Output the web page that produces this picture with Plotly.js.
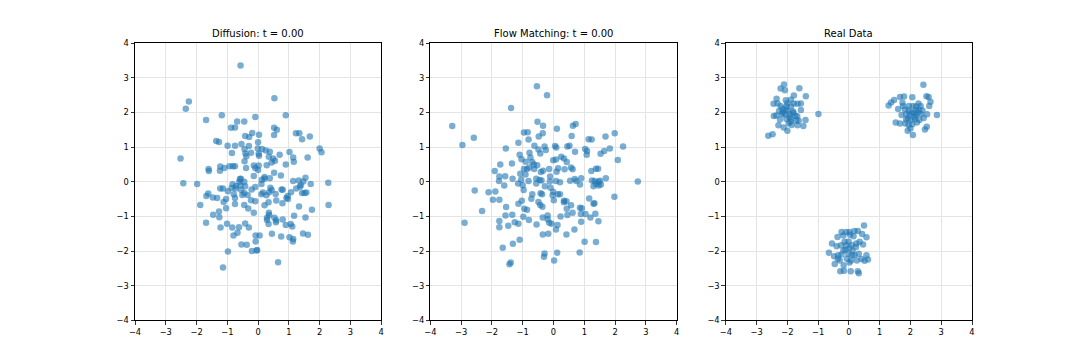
<!DOCTYPE html>
<html>
<head>
<meta charset="utf-8">
<script src="https://cdn.plot.ly/plotly-3.0.1.min.js"></script>
<style>html,body{margin:0;padding:0;background:#fff;}#chart{width:1080px;height:360px;}</style>
</head>
<body>
<div id="chart"></div>
<script>
const panelTitles = ["Diffusion: t = 0.00", "Flow Matching: t = 0.00", "Real Data"];
const tickVals = [-4, -3, -2, -1, 0, 1, 2, 3, 4];

const diffX = [-0.57,0.53,-2.25,-2.35,-1.18,-0.09,0.90,-1.69,-0.68,-0.45,
-0.88,-0.75,0.52,0.61,-0.19,0.03,0.52,-0.42,-0.29,1.23,
1.34,1.68,1.43,-1.36,-1.27,0.00,-0.99,-0.75,-0.54,-0.30,
-0.01,0.13,0.25,2.00,2.06,-0.44,-0.41,-0.85,0.02,-0.23,
0.38,1.02,0.70,-2.52,-0.38,0.03,0.49,0.44,0.55,1.14,
1.16,1.61,-0.44,0.35,-0.93,-0.82,-0.75,-1.23,-1.10,-1.61,
-1.60,-1.24,-0.14,0.02,-0.09,0.00,-0.39,0.28,0.52,0.90,
0.74,0.21,0.12,0.21,-0.59,-0.56,-0.61,-0.45,-2.43,-1.98,
2.28,1.14,1.32,1.47,1.54,1.71,1.36,1.24,1.39,-0.72,
-0.86,-0.73,-0.57,-0.42,-0.55,-0.09,-0.21,0.40,-1.23,-1.14,
-0.98,0.16,0.36,0.44,0.76,0.80,1.07,1.43,1.51,1.57,
-1.62,-1.68,-1.47,-1.33,-1.12,-1.04,-0.79,-0.75,-0.51,-0.34,
-0.23,-0.09,0.11,0.27,0.57,0.96,0.92,0.97,0.59,0.79,
0.34,0.21,-1.88,-0.75,-1.04,-0.45,-0.32,-0.14,1.33,1.75,
2.29,-1.27,-1.26,-1.46,-1.69,0.35,0.36,0.29,0.29,0.53,
0.59,0.80,0.58,1.17,1.54,0.34,-0.42,-1.01,-1.22,-0.84,
-0.62,-0.30,0.90,1.06,1.11,-0.67,-0.80,-0.08,0.05,0.45,
0.75,1.02,1.14,1.13,1.46,1.62,-0.08,-0.54,-0.37,-0.98,
-0.20,-0.05,-0.03,0.65,-1.14,-0.83,-0.45,-0.14,0.38,0.11];
const diffY = [3.36,2.41,2.32,2.11,1.92,1.87,1.92,1.78,1.74,1.74,
1.56,1.57,1.56,1.50,1.41,1.36,1.35,1.32,1.29,1.40,
1.40,1.31,1.23,1.18,1.15,1.14,1.04,1.04,1.09,1.03,
0.96,0.95,0.90,0.96,0.85,0.94,0.82,0.83,0.81,0.84,
0.87,0.86,0.78,0.67,0.74,0.75,0.67,0.56,0.61,0.70,
0.58,0.70,0.59,0.72,0.45,0.45,0.45,0.44,0.40,0.37,
0.31,0.32,0.47,0.47,0.40,0.34,0.40,0.48,0.26,0.50,
0.18,0.14,0.06,0.09,0.08,0.09,0.00,0.00,-0.04,-0.06,
-0.03,0.02,0.04,0.01,0.12,-0.06,-0.14,-0.19,-0.10,-0.12,
-0.18,-0.19,-0.10,-0.13,-0.24,-0.15,-0.22,-0.17,-0.19,-0.19,
-0.27,-0.31,-0.30,-0.24,-0.22,-0.23,-0.30,-0.32,-0.32,-0.31,
-0.34,-0.41,-0.45,-0.47,-0.58,-0.50,-0.36,-0.47,-0.38,-0.38,
-0.53,-0.56,-0.36,-0.39,-0.35,-0.41,-0.47,-0.50,-0.54,-0.62,
-0.59,-0.68,-0.67,-0.64,-0.76,-0.67,-0.77,-0.89,-0.71,-0.81,
-0.67,-0.86,-1.02,-0.95,-1.18,-0.89,-0.96,-1.04,-1.10,-1.04,
-1.11,-1.09,-1.17,-0.98,-1.03,-1.22,-1.20,-1.21,-1.32,-1.32,
-1.31,-1.32,-1.25,-1.22,-1.29,-1.47,-1.55,-1.55,-1.55,-1.50,
-1.58,-1.60,-1.65,-1.72,-1.49,-1.53,-1.72,-1.81,-1.82,-2.01,
-2.00,-1.98,-1.97,-2.32,-2.47,-0.07,-0.32,0.17,0.10,-0.06];

const flowX = [-0.54,-0.21,-1.38,-3.29,-0.52,-0.34,0.63,0.72,0.11,-0.96,
-0.84,-0.35,1.99,-0.48,0.59,1.14,1.24,1.69,-2.59,-2.96,
-1.14,-0.81,-1.55,-0.62,-0.29,-0.25,-0.49,0.05,0.09,0.45,
0.52,1.03,1.09,1.83,2.26,1.65,1.53,1.08,0.70,-0.78,
-0.75,-1.10,-1.04,-0.90,-0.69,0.25,0.34,-0.01,0.08,0.43,
2.09,-1.35,-1.73,-1.91,-0.96,-0.86,-0.79,-0.63,-0.53,-0.41,
-0.34,-0.14,0.10,0.15,0.36,0.57,0.62,1.23,1.38,1.45,
-1.76,-1.57,-1.33,-1.77,-1.60,-1.05,-1.15,-1.00,-0.81,-0.56,
-0.45,-0.56,-0.39,-0.11,-0.12,0.08,-0.10,0.21,0.54,0.69,
0.74,0.86,0.90,1.25,1.34,1.38,1.46,1.51,1.54,1.47,
1.30,1.70,2.74,-2.56,-2.11,-1.89,-1.97,-1.76,-0.97,-0.69,
-0.72,-0.42,-0.37,-0.49,-0.43,-0.36,-0.03,0.01,0.14,0.21,
0.34,0.42,0.34,-1.03,-1.14,1.16,1.30,1.33,1.98,-1.54,
-2.32,-0.95,-0.86,0.57,0.43,0.86,0.92,-1.56,-1.34,-0.98,
-0.80,-0.35,-0.19,-0.19,-0.14,-0.06,0.23,0.45,0.62,0.89,
1.04,1.20,1.36,1.46,0.90,-1.76,-1.76,-1.47,-1.26,-1.14,
-2.89,-0.55,-0.35,-0.17,0.13,0.08,0.42,0.68,1.01,1.38,
-1.10,-1.32,-1.65,-0.29,-0.31,0.12,0.85,0.02,-1.39,-1.43,
-0.64,-0.43,-1.08,-0.91,-0.28,-0.01];
const flowY = [2.76,2.50,2.13,1.61,1.73,1.62,1.62,1.67,1.53,1.42,
1.43,1.40,1.40,1.31,1.32,1.23,1.22,1.31,1.27,1.06,
1.13,1.22,0.96,1.04,1.02,0.92,0.93,1.03,0.99,1.02,
1.04,0.95,0.89,0.96,1.02,0.89,0.81,0.78,0.87,0.84,
0.70,0.78,0.65,0.58,0.57,0.72,0.67,0.62,0.64,0.57,
0.63,0.53,0.50,0.31,0.37,0.37,0.41,0.37,0.48,0.28,
0.32,0.37,0.29,0.39,0.36,0.41,0.36,0.31,0.38,0.38,
0.15,0.16,0.09,0.02,-0.11,0.06,-0.05,-0.10,0.02,0.09,
0.05,-0.05,0.04,0.15,0.01,0.02,-0.17,-0.01,0.03,0.08,
0.02,-0.08,0.10,0.04,0.02,-0.06,0.00,0.03,-0.08,-0.11,
-0.13,0.10,0.01,-0.25,-0.30,-0.28,-0.52,-0.52,-0.24,-0.36,
-0.49,-0.33,-0.36,-0.58,-0.67,-0.72,-0.39,-0.53,-0.36,-0.36,
-0.55,-0.56,-0.59,-0.55,-0.63,-0.48,-0.63,-0.62,-0.43,-0.73,
-0.84,-0.78,-0.81,-0.68,-0.78,-0.75,-0.76,-0.97,-0.95,-1.01,
-1.10,-1.03,-0.97,-1.08,-1.18,-1.21,-1.00,-0.96,-0.89,-0.93,
-0.93,-1.03,-0.92,-1.14,-1.15,-1.13,-1.31,-1.27,-1.17,-1.21,
-1.18,-1.23,-1.52,-1.50,-1.25,-1.38,-1.52,-1.38,-1.73,-1.74,
-1.67,-1.79,-1.90,-2.07,-2.16,-2.05,-2.04,-2.27,-2.33,-2.38,
0.50,0.82,0.23,0.21,-0.13,-0.29];

const realLeftX = [-2.11,-2.22,-2.08,-1.61,-1.40,-1.79,-2.35,-2.05,-1.89,-2.45,
-2.32,-2.22,-2.00,-1.79,-1.67,-1.56,-2.16,-2.06,-1.88,-1.82,
-1.56,-0.99,-2.44,-2.36,-2.17,-2.08,-1.92,-1.74,-1.68,-2.24,
-2.03,-1.88,-1.63,-1.41,-1.96,-2.29,-2.12,-1.86,-1.67,-1.48,
-2.00,-2.48,-2.62,-1.99,-2.15,-1.89,-1.80,-2.03,-2.27,-1.71,-1.93];
const realLeftY = [2.81,2.69,2.64,2.70,2.47,2.49,2.40,2.35,2.37,2.25,
2.26,2.19,2.27,2.26,2.25,2.26,2.11,2.09,2.17,2.03,
2.07,1.96,1.90,1.91,1.95,1.95,1.95,1.90,1.89,1.80,
1.81,1.81,1.76,1.78,1.69,1.63,1.57,1.64,1.63,1.61,
1.47,1.37,1.33,2.05,2.01,1.73,1.99,2.18,2.04,1.77,1.87];
const realRightX = [2.42,1.66,1.79,2.06,2.52,2.59,1.47,1.37,1.29,1.74,
2.65,1.95,2.08,2.26,2.33,2.61,1.60,1.82,1.94,2.17,
2.28,2.39,1.71,1.86,2.10,2.18,2.34,2.54,2.86,1.92,
2.01,2.15,2.29,1.52,1.66,1.83,1.94,2.06,2.21,2.53,
2.47,2.00,2.08,1.91,2.02,2.13,2.24,1.86,1.97,2.18,1.76,2.43];
const realRightY = [2.80,2.45,2.46,2.44,2.47,2.45,2.36,2.29,2.20,2.28,
2.31,2.19,2.19,2.26,2.19,2.19,2.10,2.09,2.06,2.07,
2.08,2.06,1.93,1.95,1.99,1.93,1.95,1.95,1.93,1.83,
1.78,1.81,1.78,1.71,1.68,1.68,1.64,1.66,1.71,1.59,
1.51,1.54,1.35,1.47,2.00,1.88,2.00,1.80,1.93,2.17,2.19,1.84];
const realBottomX = [0.49,-0.24,-0.09,0.02,0.18,0.29,0.43,0.57,-0.37,-0.18,
0.04,0.15,-0.55,-0.40,-0.26,-0.14,-0.01,0.09,0.24,0.35,
0.46,-0.65,-0.48,-0.35,-0.24,-0.11,0.02,0.12,-0.02,0.18,
0.32,0.41,0.57,0.62,0.51,-0.46,-0.30,-0.17,-0.28,-0.16,
0.06,0.29,0.32,-0.07,0.07,0.26,-0.09,0.10,-0.18,-0.36,0.02,0.23];
const realBottomY = [-1.26,-1.45,-1.45,-1.45,-1.42,-1.42,-1.51,-1.60,-1.59,-1.55,
-1.53,-1.57,-1.78,-1.86,-1.83,-1.73,-1.72,-1.83,-1.78,-1.73,
-1.81,-2.05,-2.15,-2.12,-2.10,-1.96,-1.91,-1.99,-2.08,-2.12,
-2.08,-2.23,-2.12,-2.24,-2.28,-2.37,-2.27,-2.41,-2.58,-2.57,
-2.58,-2.58,-2.64,-2.22,-2.27,-2.27,-1.83,-2.12,-1.98,-2.22,-2.33,-1.88];

const realX = realLeftX.concat(realRightX, realBottomX);
const realY = realLeftY.concat(realRightY, realBottomY);

const marker = {color: 'rgba(31,119,180,0.6)', size: 6.5, line: {width: 0}};
const traces = [
  {x: diffX, y: diffY, xaxis: 'x', yaxis: 'y'},
  {x: flowX, y: flowY, xaxis: 'x2', yaxis: 'y2'},
  {x: realX, y: realY, xaxis: 'x3', yaxis: 'y3'}
].map(t => Object.assign(t, {type: 'scatter', mode: 'markers', marker: marker, hoverinfo: 'skip', showlegend: false}));

const font = {family: 'DejaVu Sans, sans-serif', size: 8.3, color: '#000'};
function axis(domain, anchor) {
  return {
    domain: domain, anchor: anchor, range: [-4, 4], tickvals: tickVals, ticktext: tickVals.map(v => v < 0 ? '\u2212' + Math.abs(v) : String(v)),
    showline: true, linecolor: '#000', linewidth: 1, mirror: true,
    ticks: 'outside', ticklen: 3.5, tickwidth: 0.8, tickcolor: '#000',
    showgrid: true, gridcolor: '#e4e4e4', gridwidth: 1, zeroline: false,
    tickfont: font, fixedrange: true
  };
}
const w = 0.775 / 3.4, g = w * 0.2;
const d1 = [0.125, 0.125 + w], d2 = [0.125 + w + g, 0.125 + 2 * w + g], d3 = [0.9 - w, 0.9];
const yd = [0.11, 0.88];
const layout = {
  width: 1080, height: 360,
  margin: {l: 0, r: 0, t: 0, b: 0},
  paper_bgcolor: '#fff', plot_bgcolor: '#fff',
  font: font,
  xaxis: axis(d1, 'y'), yaxis: axis(yd, 'x'),
  xaxis2: axis(d2, 'y2'), yaxis2: axis(yd, 'x2'),
  xaxis3: axis(d3, 'y3'), yaxis3: axis(yd, 'x3'),
  annotations: panelTitles.map((t, i) => ({
    text: t, xref: (i === 0 ? 'x' : 'x' + (i + 1)) + ' domain', yref: 'paper',
    x: 0.5, y: 0.88, xanchor: 'center', yanchor: 'bottom', yshift: 2, showarrow: false,
    font: {family: 'DejaVu Sans, sans-serif', size: 10, color: '#000'}
  }))
};
Plotly.newPlot('chart', traces, layout, {displayModeBar: false, staticPlot: true});
</script>
</body>
</html>
